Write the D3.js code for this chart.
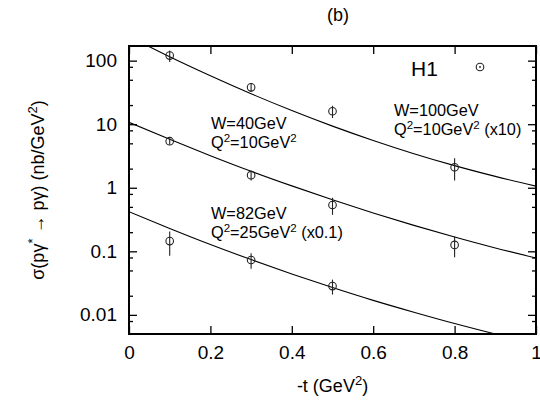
<!DOCTYPE html>
<html>
<head>
<meta charset="utf-8">
<script src="https://cdn.jsdelivr.net/npm/d3@7"></script>
<style>
  html, body { margin: 0; padding: 0; background: #fff; }
  svg { display: block; font-family: "Liberation Sans", Arial, Helvetica, sans-serif; }
</style>
</head>
<body>
<svg id="chart" width="540" height="409"></svg>
<script>
// ---- data ----
const tPoints = [0.1, 0.3, 0.5, 0.8];
const w100Vals = [120, 38, 16, 2.1];          // W=100GeV, Q2=10 (x10)
const w100Err  = [25, 6, 3.5, 0.8];
const w40Vals  = [5.4, 1.58, 0.535, 0.126];   // W=40GeV, Q2=10
const w40Err   = [0.6, 0.28, 0.16, 0.045];
const tPoints82 = [0.1, 0.3, 0.5];
const w82Vals  = [0.145, 0.073, 0.0284];      // W=82GeV, Q2=25 (x0.1)
const w82Err   = [0.06, 0.02, 0.0075];

const tCurve   = [0, 0.1, 0.2, 0.3, 0.4, 0.5, 0.6, 0.7, 0.8, 0.9, 1.0];
const fit100   = [241, 115, 57.7, 30.1, 16.4, 9.33, 5.55, 3.44, 2.23, 1.51, 1.06];
const fit40    = [10.7, 5.78, 3.20, 1.82, 1.07, 0.646, 0.401, 0.256, 0.168, 0.113, 0.0785];
const fit82    = [0.420, 0.229, 0.128, 0.0741, 0.0441, 0.0269, 0.0169, 0.0110, 0.0073, 0.0050, 0.00352];

const xTicks = [0, 0.2, 0.4, 0.6, 0.8, 1];
const xTickLabels = ["0", "0.2", "0.4", "0.6", "0.8", "1"];
const yTicks = [100, 10, 1, 0.1, 0.01];
const yTickLabels = ["100", "10", "1", "0.1", "0.01"];
const yMinorTicks = [0.008, 0.02, 0.05, 0.08, 0.2, 0.5, 0.8, 2, 5, 8, 20, 50, 80];

// ---- layout ----
const svg = d3.select("#chart");
const W = 540, H = 409;
const m = { left: 129, right: 4, top: 46, bottom: 75 };
const pw = W - m.left - m.right, ph = H - m.top - m.bottom;

const x = d3.scaleLinear().domain([0, 1]).range([m.left, m.left + pw]);
const y = d3.scaleLog().domain([0.005, 170]).range([m.top + ph, m.top]);

svg.append("defs").append("clipPath").attr("id", "clip")
  .append("rect").attr("x", m.left).attr("y", m.top).attr("width", pw).attr("height", ph);

// ---- axes (ticks inward, mirrored) ----
const fs = 19;
const gBottom = svg.append("g").attr("transform", `translate(0,${m.top + ph})`)
  .call(d3.axisBottom(x).tickValues(xTicks).tickSize(-8).tickPadding(16)
    .tickFormat((d, i) => xTickLabels[i]));
const gTop = svg.append("g").attr("transform", `translate(0,${m.top})`)
  .call(d3.axisTop(x).tickValues(xTicks).tickSize(-8).tickFormat(""));
const gLeft = svg.append("g").attr("transform", `translate(${m.left},0)`)
  .call(d3.axisLeft(y).tickValues(yTicks).tickSize(-8).tickPadding(12)
    .tickFormat((d, i) => yTickLabels[i]));
const gRight = svg.append("g").attr("transform", `translate(${m.left + pw},0)`)
  .call(d3.axisRight(y).tickValues(yTicks).tickSize(-8).tickFormat(""));
const gLeftMinor = svg.append("g").attr("transform", `translate(${m.left},0)`)
  .call(d3.axisLeft(y).tickValues(yMinorTicks).tickSize(-4).tickFormat(""));
const gRightMinor = svg.append("g").attr("transform", `translate(${m.left + pw},0)`)
  .call(d3.axisRight(y).tickValues(yMinorTicks).tickSize(-4).tickFormat(""));

[gBottom, gTop, gLeft, gRight, gLeftMinor, gRightMinor].forEach(g => {
  g.select(".domain").remove();
  g.selectAll(".tick line").attr("stroke", "#000").attr("stroke-width", 1.3);
  g.selectAll(".tick text").attr("fill", "#000").attr("font-size", fs)
    .attr("font-family", "'Liberation Sans', Arial, sans-serif");
});
gBottom.selectAll(".tick text").attr("dy", "0.45em");

// frame
svg.append("rect").attr("x", m.left).attr("y", m.top).attr("width", pw).attr("height", ph)
  .attr("fill", "none").attr("stroke", "#000").attr("stroke-width", 2);

// ---- curves ----
const line = d3.line().x((d, i) => x(tCurve[i])).y(d => y(d)).curve(d3.curveMonotoneX);
const curves = svg.append("g").attr("clip-path", "url(#clip)");
[fit100, fit40, fit82].forEach(f => {
  curves.append("path").attr("d", line(f)).attr("fill", "none")
    .attr("stroke", "#000").attr("stroke-width", 1.1);
});

// ---- data points ----
function drawSeries(ts, vals, errs) {
  const g = svg.append("g");
  ts.forEach((t, i) => {
    g.append("line").attr("x1", x(t)).attr("x2", x(t))
      .attr("y1", y(vals[i] + errs[i])).attr("y2", y(vals[i] - errs[i]))
      .attr("stroke", "#222").attr("stroke-width", 1.1);
    g.append("circle").attr("cx", x(t)).attr("cy", y(vals[i])).attr("r", 3.8)
      .attr("fill", "none").attr("stroke", "#222").attr("stroke-width", 1.1);
  });
}
drawSeries(tPoints, w100Vals, w100Err);
drawSeries(tPoints, w40Vals, w40Err);
drawSeries(tPoints82, w82Vals, w82Err);

// ---- legend ----
svg.append("text").attr("x", 411).attr("y", 76).attr("font-size", 21).text("H1");
svg.append("circle").attr("cx", 480).attr("cy", 67).attr("r", 3.8)
  .attr("fill", "none").attr("stroke", "#222").attr("stroke-width", 1.1);
svg.append("circle").attr("cx", 480).attr("cy", 67).attr("r", 0.9).attr("fill", "#222");

// ---- annotations ----
function note(xp, yp, line1, qVal, suffix) {
  const fsz = 16.3;
  svg.append("text").attr("x", xp).attr("y", yp).attr("font-size", fsz).text(line1);
  const t = svg.append("text").attr("x", xp).attr("y", yp + 19).attr("font-size", fsz);
  t.append("tspan").text("Q");
  t.append("tspan").attr("dy", -6).attr("font-size", 11.5).text("2");
  t.append("tspan").attr("dy", 6).text("=" + qVal + "GeV");
  t.append("tspan").attr("dy", -6).attr("font-size", 11.5).text("2");
  if (suffix) t.append("tspan").attr("dy", 6).text(" " + suffix);
}
note(211, 129, "W=40GeV", "10", "");
note(394, 116, "W=100GeV", "10", "(x10)");
note(211, 219, "W=82GeV", "25", "(x0.1)");

// ---- titles ----
svg.append("text").attr("x", 338).attr("y", 21).attr("text-anchor", "middle")
  .attr("font-size", 18).text("(b)");

const xt = svg.append("text").attr("x", x(0.5)).attr("y", 392).attr("text-anchor", "middle")
  .attr("font-size", 18);
xt.append("tspan").text("-t (GeV");
xt.append("tspan").attr("dy", -7).attr("font-size", 13).text("2");
xt.append("tspan").attr("dy", 7).text(")");

const yt = svg.append("text").attr("transform", `translate(44,${m.top + ph / 2}) rotate(-90)`)
  .attr("text-anchor", "middle").attr("font-size", 18);
yt.append("tspan").text("σ(pγ");
yt.append("tspan").attr("dy", -7).attr("font-size", 13).text("*");
yt.append("tspan").attr("dy", 7).text(" → pγ) (nb/GeV");
yt.append("tspan").attr("dy", -7).attr("font-size", 13).text("2");
yt.append("tspan").attr("dy", 7).text(")");
</script>
</body>
</html>
